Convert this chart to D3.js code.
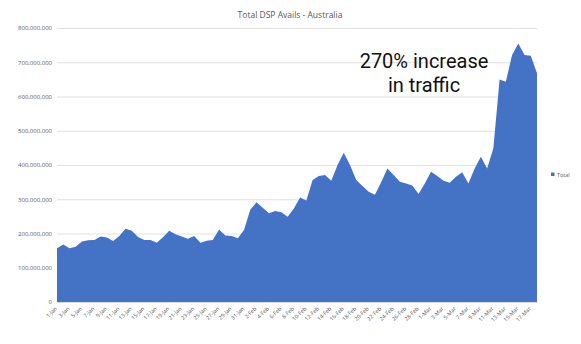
<!DOCTYPE html>
<html>
<head>
<meta charset="utf-8">
<script src="https://cdn.jsdelivr.net/npm/d3@7/dist/d3.min.js"></script>
<style>
  html, body { margin: 0; padding: 0; background: #fff; }
  svg { display: block; }
</style>
</head>
<body>
<svg id="chart" width="581" height="344"></svg>
<script>
const title = "Total DSP Avails - Australia";
const seriesName = "Total";

const categories = [
  "1-Jan","2-Jan","3-Jan","4-Jan","5-Jan","6-Jan","7-Jan","8-Jan","9-Jan","10-Jan",
  "11-Jan","12-Jan","13-Jan","14-Jan","15-Jan","16-Jan","17-Jan","18-Jan","19-Jan","20-Jan",
  "21-Jan","22-Jan","23-Jan","24-Jan","25-Jan","26-Jan","27-Jan","28-Jan","29-Jan","30-Jan",
  "31-Jan","1-Feb","2-Feb","3-Feb","4-Feb","5-Feb","6-Feb","7-Feb","8-Feb","9-Feb",
  "10-Feb","11-Feb","12-Feb","13-Feb","14-Feb","15-Feb","16-Feb","17-Feb","18-Feb","19-Feb",
  "20-Feb","21-Feb","22-Feb","23-Feb","24-Feb","25-Feb","26-Feb","27-Feb","28-Feb","29-Feb",
  "1-Mar","2-Mar","3-Mar","4-Mar","5-Mar","6-Mar","7-Mar","8-Mar","9-Mar","10-Mar",
  "11-Mar","12-Mar","13-Mar","14-Mar","15-Mar","16-Mar","17-Mar","18-Mar"
];

const totals = [
  157e6,168e6,157e6,161e6,177e6,180e6,181e6,191e6,188e6,178e6,
  193e6,214e6,208e6,190e6,181e6,181e6,173e6,189e6,208e6,198e6,
  191e6,185e6,193e6,173e6,179e6,181e6,212e6,194e6,193e6,186e6,
  210e6,269e6,291e6,275e6,259e6,266e6,262e6,249e6,273e6,305e6,
  296e6,356e6,368e6,371e6,354e6,400e6,436e6,400e6,356e6,339e6,
  322e6,313e6,350e6,390e6,371e6,351e6,346e6,340e6,315e6,346e6,
  380e6,368e6,354e6,348e6,366e6,379e6,346e6,390e6,424e6,390e6,
  449e6,650e6,643e6,721e6,755e6,721e6,719e6,668e6
];

const yTicks = [0,100e6,200e6,300e6,400e6,500e6,600e6,700e6,800e6];
const xTickLabels = categories.filter((d, i) => i % 2 === 0);

const annotationLines = ["270% increase", "in traffic"];

const svg = d3.select("#chart");
const plotLeft = 57, plotRight = 537, plotTop = 28, plotBottom = 302;

const x = d3.scalePoint().domain(categories).range([plotLeft, plotRight]);
const y = d3.scaleLinear().domain([0, 800e6]).range([plotBottom, plotTop]);

// title
svg.append("text")
  .attr("x", 290).attr("y", 18)
  .attr("text-anchor", "middle")
  .style("font-family", "'Open Sans', 'Noto Sans', sans-serif")
  .style("font-size", "8.5px")
  .attr("fill", "#595959")
  .text(title);

// gridlines
svg.append("g")
  .attr("transform", `translate(${plotLeft},0)`)
  .call(d3.axisLeft(y).tickValues(yTicks).tickSize(-(plotRight - plotLeft)).tickFormat(""))
  .call(g => g.select(".domain").remove())
  .call(g => g.selectAll("line").attr("stroke", "#d9d9d9").attr("stroke-width", 0.8));

// y axis labels
svg.append("g")
  .attr("transform", `translate(${plotLeft},0)`)
  .call(d3.axisLeft(y).tickValues(yTicks).tickSize(0).tickPadding(5).tickFormat(d3.format(",")))
  .call(g => g.select(".domain").remove())
  .call(g => g.selectAll("text")
    .attr("fill", "#595959")
    .style("font-family", "'Open Sans', 'Noto Sans', sans-serif")
    .style("font-size", "6px"));

// area
const area = d3.area()
  .x((d, i) => x(categories[i]))
  .y0(y(0))
  .y1(d => y(d));

svg.append("path")
  .datum(totals)
  .attr("d", area)
  .attr("fill", "#4472C4");

// x axis
svg.append("g")
  .attr("transform", `translate(0,${plotBottom})`)
  .call(d3.axisBottom(x).tickValues(xTickLabels).tickSize(0))
  .call(g => g.select(".domain").attr("stroke", "#d9d9d9"))
  .call(g => g.selectAll("text")
    .attr("fill", "#595959")
    .style("font-family", "'Open Sans', 'Noto Sans', sans-serif")
    .style("font-size", "5.5px")
    .attr("x", -5).attr("y", 3).attr("dy", "0.35em")
    .attr("transform", "rotate(-45)")
    .style("text-anchor", "end"));

// legend
svg.append("rect")
  .attr("x", 551).attr("y", 172.5).attr("width", 3.5).attr("height", 3.5)
  .attr("fill", "#4472C4");
svg.append("text")
  .attr("x", 557).attr("y", 176.5)
  .style("font-family", "'Open Sans', 'Noto Sans', sans-serif")
  .style("font-size", "5.5px")
  .attr("fill", "#595959")
  .text(seriesName);

// annotation
svg.append("g")
  .selectAll("text")
  .data(annotationLines)
  .join("text")
  .attr("x", 424)
  .attr("y", (d, i) => 68 + i * 24)
  .attr("text-anchor", "middle")
  .style("font-family", "Roboto, sans-serif")
  .style("font-size", "20px")
  .attr("fill", "#111")
  .text(d => d);
</script>
</body>
</html>
